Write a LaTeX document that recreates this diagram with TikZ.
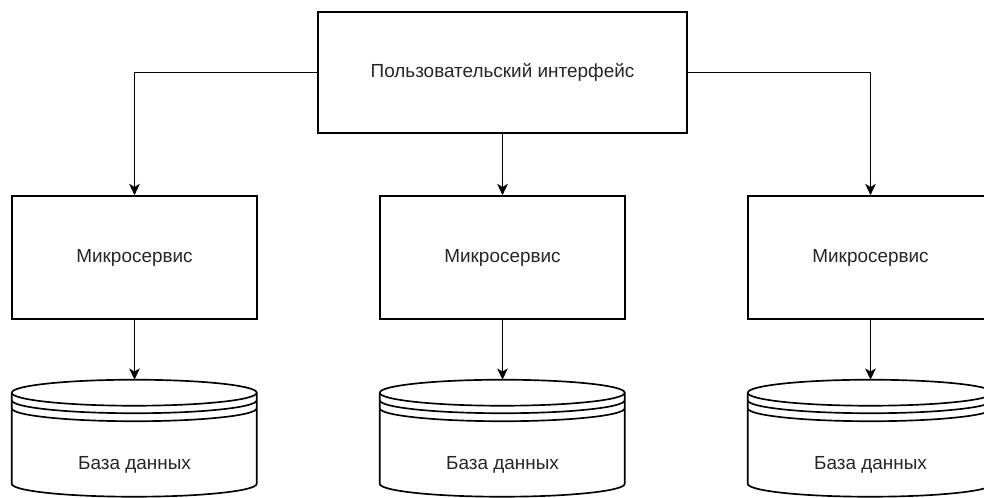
\documentclass[tikz,border=0pt]{standalone}
\usepackage{fontspec}
\setmainfont{Liberation Sans}
\usetikzlibrary{arrows.meta}

\tikzset{
  box/.style={draw, line width=1.25pt, fill=white, inner sep=0pt},
  uibox/.style={box, minimum width=276.75pt, minimum height=90.75pt},
  msbox/.style={box, minimum width=183.75pt, minimum height=92.25pt},
  dbarea/.style={inner sep=0pt, minimum width=183.75pt, minimum height=87.75pt},
  dbline/.style={line width=1.25pt},
  lbl/.style={font=\fontsize{14.2pt}{17pt}\selectfont, inner sep=0pt, text=black!85},
  conn/.style={line width=1.25pt, -{Stealth[length=8.5pt, width=8pt, inset=2.4pt]}}
}

% data store drawn inside the bounding area of a named node
\newcommand{\datastore}[1]{%
  \begin{scope}[shift={(#1.north west)}]
    \draw[dbline, fill=white] (0,13) arc[start angle=180, end angle=360, x radius=122.5, y radius=13]
      -- (245,104) arc[start angle=0, end angle=180, x radius=122.5, y radius=13] -- cycle;
    \draw[dbline] (0,13) arc[start angle=180, end angle=0, x radius=122.5, y radius=13];
    \draw[dbline] (0,20.5) arc[start angle=180, end angle=0, x radius=122.5, y radius=13];
    \draw[dbline] (0,28.5) arc[start angle=180, end angle=0, x radius=122.5, y radius=13];
  \end{scope}}

\begin{document}
\begin{tikzpicture}[x=0.75pt, y=-0.75pt]
  \useasboundingbox[fill=white] (0,0) rectangle (984,498);

  % interface
  \node[uibox] (ui) at (502.5,72.5) {};
  \node[lbl] (uit) at (ui.center) {Пользовательский интерфейс};

  % services
  \node[msbox] (ms1) at (134.5,257.5) {};
  \node[msbox] (ms2) at (502.5,257.5) {};
  \node[msbox] (ms3) at (870.5,257.5) {};
  \node[lbl] (ms1t) at (ms1.center) {Микросервис};
  \node[lbl] (ms2t) at (ms2.center) {Микросервис};
  \node[lbl] (ms3t) at (ms3.center) {Микросервис};

  % databases
  \node[dbarea] (db1) at (134.5,438.5) {};
  \node[dbarea] (db2) at (502.5,438.5) {};
  \node[dbarea] (db3) at (870.5,438.5) {};
  \datastore{db1}
  \datastore{db2}
  \datastore{db3}
  \node[lbl] (db1t) at (134.5,465) {База данных};
  \node[lbl] (db2t) at (502.5,465) {База данных};
  \node[lbl] (db3t) at (870.5,465) {База данных};

  % connectors
  \draw[conn] (ui.west) -| (ms1.north);
  \draw[conn] (ui.south) -- (ms2.north);
  \draw[conn] (ui.east) -| (ms3.north);
  \draw[conn] (ms1.south) -- (db1.north);
  \draw[conn] (ms2.south) -- (db2.north);
  \draw[conn] (ms3.south) -- (db3.north);
\end{tikzpicture}
\end{document}
